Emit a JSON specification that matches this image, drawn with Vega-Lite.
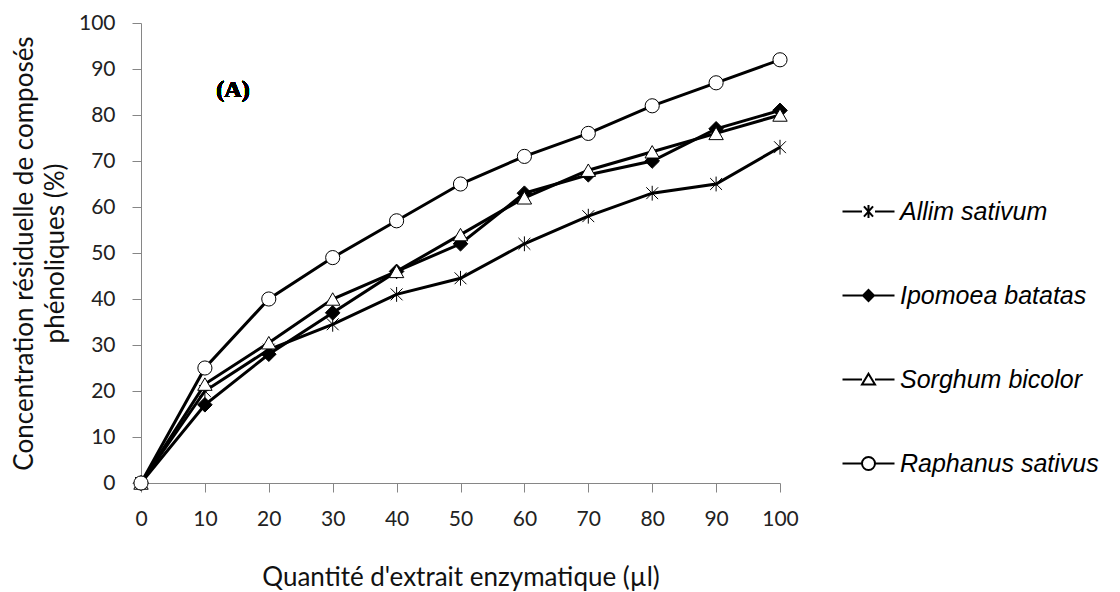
{
  "$schema": "https://vega.github.io/schema/vega-lite/v6.json",
  "autosize": {"type": "none"},
  "padding": {"left": 141, "top": 23, "right": 340, "bottom": 109},
  "width": 639,
  "height": 460,
  "background": "white",
  "config": {
    "view": {"stroke": null},
    "font": "Lato",
    "axis": {
      "domainColor": "#868686",
      "tickColor": "#868686",
      "domainWidth": 1,
      "tickWidth": 1,
      "grid": false,
      "labelFont": "Lato",
      "labelFontSize": 21,
      "labelColor": "#222",
      "titleFont": "Lato",
      "titleFontSize": 26,
      "titleFontWeight": "normal",
      "titleColor": "#111"
    }
  },
  "data": {
    "values": [
      {"q": 0, "c": 0, "series": "Allim sativum"},
      {"q": 10, "c": 20, "series": "Allim sativum"},
      {"q": 20, "c": 29, "series": "Allim sativum"},
      {"q": 30, "c": 34.5, "series": "Allim sativum"},
      {"q": 40, "c": 41, "series": "Allim sativum"},
      {"q": 50, "c": 44.5, "series": "Allim sativum"},
      {"q": 60, "c": 52, "series": "Allim sativum"},
      {"q": 70, "c": 58, "series": "Allim sativum"},
      {"q": 80, "c": 63, "series": "Allim sativum"},
      {"q": 90, "c": 65, "series": "Allim sativum"},
      {"q": 100, "c": 73, "series": "Allim sativum"},
      {"q": 0, "c": 0, "series": "Ipomoea batatas"},
      {"q": 10, "c": 17, "series": "Ipomoea batatas"},
      {"q": 20, "c": 28, "series": "Ipomoea batatas"},
      {"q": 30, "c": 37, "series": "Ipomoea batatas"},
      {"q": 40, "c": 46, "series": "Ipomoea batatas"},
      {"q": 50, "c": 52, "series": "Ipomoea batatas"},
      {"q": 60, "c": 63, "series": "Ipomoea batatas"},
      {"q": 70, "c": 67, "series": "Ipomoea batatas"},
      {"q": 80, "c": 70, "series": "Ipomoea batatas"},
      {"q": 90, "c": 77, "series": "Ipomoea batatas"},
      {"q": 100, "c": 81, "series": "Ipomoea batatas"},
      {"q": 0, "c": 0, "series": "Sorghum bicolor"},
      {"q": 10, "c": 21.5, "series": "Sorghum bicolor"},
      {"q": 20, "c": 30.5, "series": "Sorghum bicolor"},
      {"q": 30, "c": 40, "series": "Sorghum bicolor"},
      {"q": 40, "c": 46, "series": "Sorghum bicolor"},
      {"q": 50, "c": 54, "series": "Sorghum bicolor"},
      {"q": 60, "c": 62, "series": "Sorghum bicolor"},
      {"q": 70, "c": 68, "series": "Sorghum bicolor"},
      {"q": 80, "c": 72, "series": "Sorghum bicolor"},
      {"q": 90, "c": 76, "series": "Sorghum bicolor"},
      {"q": 100, "c": 80, "series": "Sorghum bicolor"},
      {"q": 0, "c": 0, "series": "Raphanus sativus"},
      {"q": 10, "c": 25, "series": "Raphanus sativus"},
      {"q": 20, "c": 40, "series": "Raphanus sativus"},
      {"q": 30, "c": 49, "series": "Raphanus sativus"},
      {"q": 40, "c": 57, "series": "Raphanus sativus"},
      {"q": 50, "c": 65, "series": "Raphanus sativus"},
      {"q": 60, "c": 71, "series": "Raphanus sativus"},
      {"q": 70, "c": 76, "series": "Raphanus sativus"},
      {"q": 80, "c": 82, "series": "Raphanus sativus"},
      {"q": 90, "c": 87, "series": "Raphanus sativus"},
      {"q": 100, "c": 92, "series": "Raphanus sativus"}
    ]
  },
  "encoding": {
    "x": {
      "field": "q",
      "type": "quantitative",
      "scale": {"domain": [0, 100], "nice": false, "zero": false},
      "axis": {
        "values": [0, 10, 20, 30, 40, 50, 60, 70, 80, 90, 100],
        "tickSize": 9,
        "labelPadding": 16,
        "labelFlush": false,
        "title": "Quantité d'extrait enzymatique (µl)",
        "titlePadding": 35
      }
    },
    "y": {
      "field": "c",
      "type": "quantitative",
      "scale": {"domain": [0, 100], "nice": false},
      "axis": {
        "values": [0, 10, 20, 30, 40, 50, 60, 70, 80, 90, 100],
        "tickSize": 9,
        "labelPadding": 17,
        "labelFlush": false,
        "title": ["Concentration résiduelle de composés", "phénoliques  (%)"],
        "titlePadding": 10,
        "titleLineHeight": 31
      }
    }
  },
  "layer": [
    {
      "mark": {"type": "line", "stroke": "black", "strokeWidth": 3},
      "encoding": {
        "detail": {"field": "series"},
        "order": {"field": "q"}
      }
    },
    {
      "mark": {"type": "point", "filled": true, "stroke": "black", "strokeWidth": 1, "opacity": 1},
      "encoding": {
        "shape": {
          "field": "series",
          "type": "nominal",
          "scale": {
            "domain": ["Allim sativum", "Ipomoea batatas", "Sorghum bicolor", "Raphanus sativus"],
            "range": ["M-0.8,-0.8L0.8,0.8M-0.8,0.8L0.8,-0.8M0,-1L0,1", "diamond", "triangle-up", "circle"]
          },
          "legend": null
        },
        "fill": {
          "field": "series",
          "type": "nominal",
          "scale": {
            "domain": ["Allim sativum", "Ipomoea batatas", "Sorghum bicolor", "Raphanus sativus"],
            "range": ["white", "black", "white", "white"]
          },
          "legend": null
        },
        "size": {
          "field": "series",
          "type": "nominal",
          "scale": {
            "domain": ["Allim sativum", "Ipomoea batatas", "Sorghum bicolor", "Raphanus sativus"],
            "range": [220, 200, 300, 300]
          },
          "legend": null
        }
      }
    },
    {
      "transform": [{"filter": "datum.q > 1000"}],
      "mark": {"type": "point", "filled": true, "stroke": "black", "strokeWidth": 2, "opacity": 1, "size": 169},
      "encoding": {
        "stroke": {"value": "black"},
        "shape": {
          "field": "series",
          "type": "nominal",
          "scale": {
            "domain": ["Allim sativum", "Ipomoea batatas", "Sorghum bicolor", "Raphanus sativus"],
            "range": [
              "M-4,0H-1M1,0H4M-0.7,-0.8L0.7,0.8M-0.7,0.8L0.7,-0.8M0,-1L0,1",
              "M-4,0H4M0,-0.85L0.85,0L0,0.85L-0.85,0Z",
              "M-4,0H-1M1,0H4M0,-0.9L1,0.75L-1,0.75Z",
              "M-4,0H-1M1,0H4M1,0A1,1,0,1,1,-1,0A1,1,0,1,1,1,0Z"
            ]
          },
          "legend": {
            "orient": "none",
            "legendX": 715,
            "legendY": 176,
            "title": null,
            "symbolSize": 169,
            "symbolStrokeWidth": 2,
            "symbolStrokeColor": "black",
            "symbolOpacity": 1,
            "labelFont": "Liberation Sans",
            "labelFontStyle": "italic",
            "labelFontSize": 25,
            "labelColor": "black",
            "labelOffset": 19,
            "labelLimit": 400,
            "rowPadding": 58,
            "encode": {"symbols": {"update": {"stroke": {"value": "black"}, "strokeWidth": {"value": 2}}}}
          }
        },
        "fill": {
          "field": "series",
          "type": "nominal",
          "scale": {
            "domain": ["Allim sativum", "Ipomoea batatas", "Sorghum bicolor", "Raphanus sativus"],
            "range": ["white", "black", "white", "white"]
          },
          "legend": {
            "orient": "none",
            "legendX": 715,
            "legendY": 176,
            "title": null,
            "symbolSize": 169,
            "symbolStrokeWidth": 2,
            "symbolStrokeColor": "black",
            "symbolOpacity": 1,
            "labelFont": "Liberation Sans",
            "labelFontStyle": "italic",
            "labelFontSize": 25,
            "labelColor": "black",
            "labelOffset": 19,
            "labelLimit": 400,
            "rowPadding": 58,
            "encode": {"symbols": {"update": {"stroke": {"value": "black"}, "strokeWidth": {"value": 2}}}}
          }
        }
      }
    },
    {
      "mark": {"type": "text", "font": "Liberation Serif", "fontWeight": "bold", "fontSize": 24, "fill": "black", "align": "center", "baseline": "middle"},
      "encoding": {
        "x": {"datum": 14.4},
        "y": {"datum": 85.5},
        "text": {"value": "(A)"}
      }
    }
  ],
  "resolve": {
    "scale": {"shape": "independent", "fill": "independent", "size": "independent"},
    "legend": {"shape": "independent", "fill": "independent"}
  }
}
